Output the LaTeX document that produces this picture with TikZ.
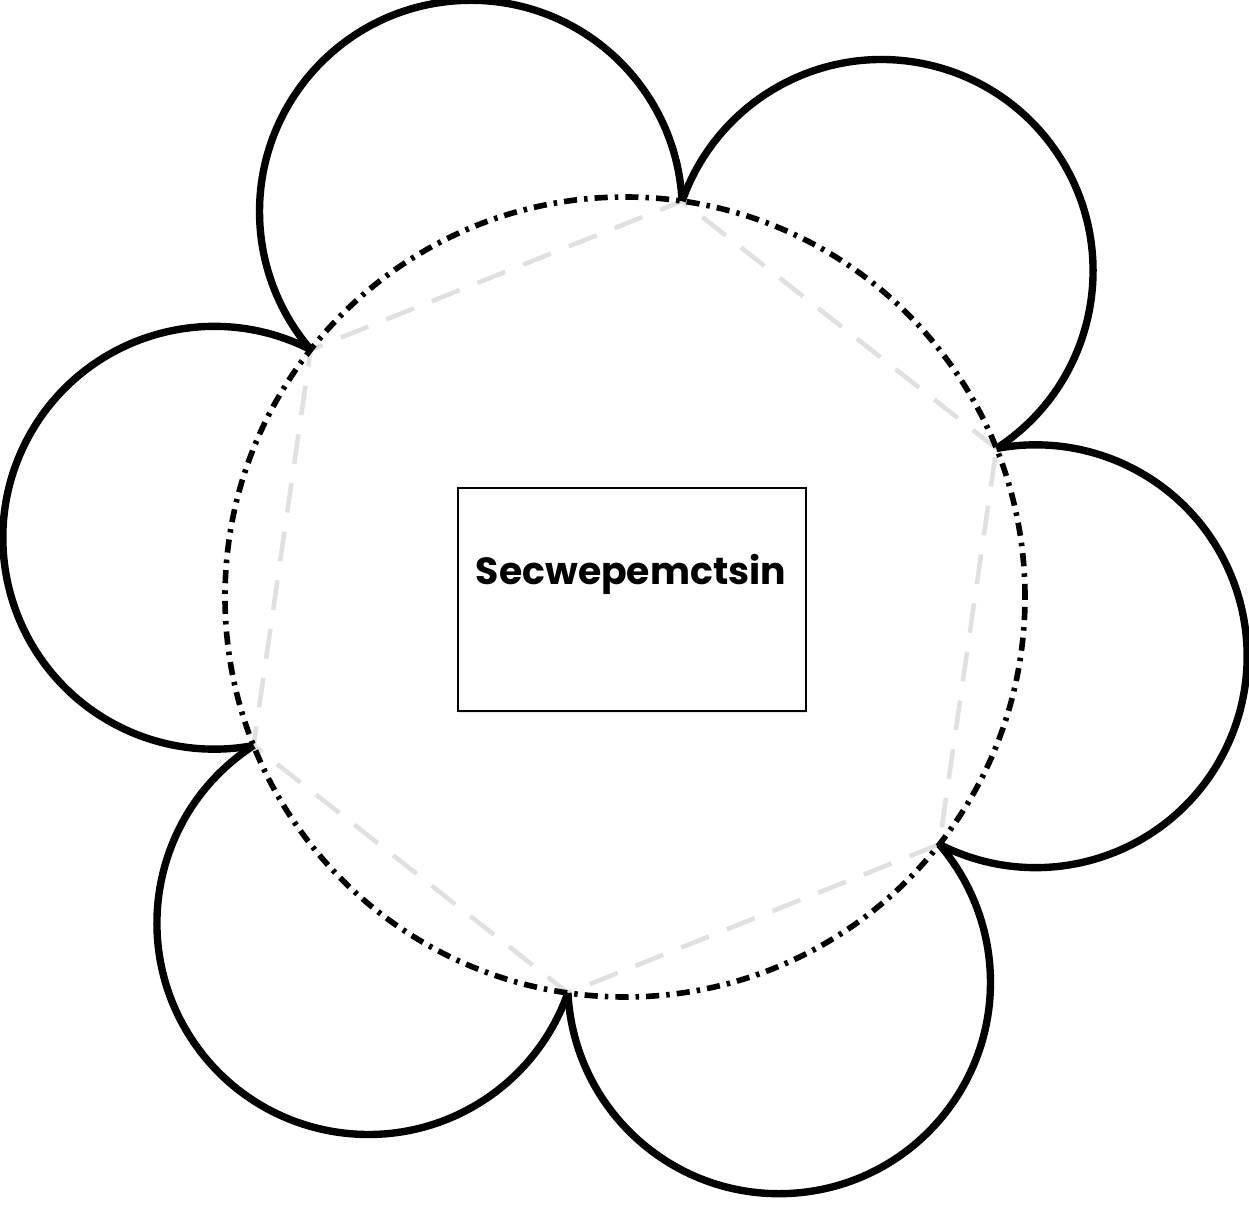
\documentclass[tikz,border=0pt]{standalone}
\usepackage{fontspec}
\newfontfamily\labelfont{Poppins}
\usetikzlibrary{shadows}
\tikzset{
  petal/.style={line width=4.2pt, black},
  ringline/.style={line width=3.2pt, black, dash pattern=on 7.5pt off 4pt on 2pt off 4pt},
  hexline/.style={line width=2.6pt, black!12, dash pattern=on 17pt off 11pt},
  box/.style={draw, line width=1.1pt, fill=white, minimum width=6.96cm, minimum height=4.46cm,
    drop shadow={opacity=0.18, shadow xshift=0.6pt, shadow yshift=-1.2pt}},
  title/.style={font=\labelfont\bfseries\fontsize{21.5}{25}\selectfont}
}
\begin{document}
\begin{tikzpicture}[x=0.02cm,y=0.02cm]
\useasboundingbox (0,0) rectangle (1249,1205);
\coordinate (O) at (625,608);
\foreach \k in {0,...,5}{
  \path (O) ++({21.8+60*\k}:400) coordinate (c\k);
}
\draw[hexline] (c0) -- (c1) -- (c2) -- (c3) -- (c4) -- (c5) -- cycle;
\draw[ringline] (O) circle[radius=400];
\foreach \k in {0,...,5}{
  \draw[petal] (c\k) arc[start angle={51.8+60*\k-108.93}, delta angle=217.86, radius=211.4];
}
\node[box] (frame) at (632,605.5) {};
\node[title] (name) at (631,631) {Secwepemctsin};
\end{tikzpicture}
\end{document}
